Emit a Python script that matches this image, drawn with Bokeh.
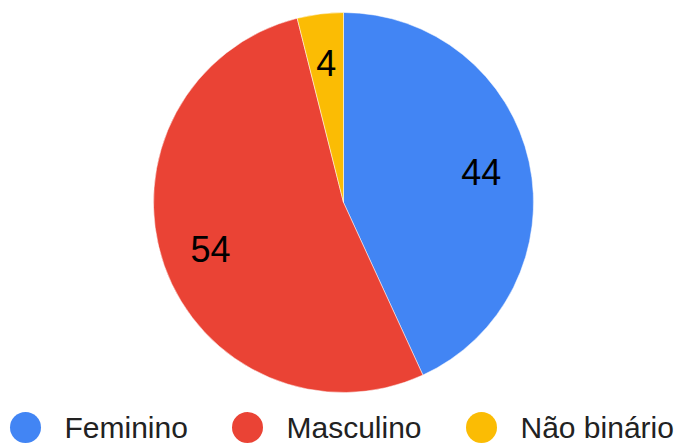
import math
from bokeh.plotting import figure
from bokeh.models import ColumnDataSource
from bokeh.core.properties import value
from bokeh.embed import file_html
from bokeh.resources import INLINE

categories = ["Feminino", "Masculino", "Não binário"]
counts = [44, 54, 4]
colors = ["#4285F4", "#EA4335", "#FBBC04"]

W, H = 680, 443
p = figure(width=W, height=H, x_range=(0, W), y_range=(0, H),
           output_backend="svg", toolbar_location=None, min_border=0,
           x_axis_type=None, y_axis_type=None)
p.grid.visible = False
p.outline_line_color = None
p.background_fill_color = "white"
p.border_fill_color = "white"

cx, cy, r = 343, 241, 190
total = sum(counts)
starts, ends, lx, ly = [], [], [], []
cum = 0
for c in counts:
    a0 = cum / total * 2 * math.pi
    a1 = (cum + c) / total * 2 * math.pi
    starts.append(math.pi / 2 - a0)
    ends.append(math.pi / 2 - a1)
    am = (a0 + a1) / 2
    lx.append(cx + 141 * math.sin(am))
    ly.append(cy + 141 * math.cos(am))
    cum += c

src = ColumnDataSource(dict(start=starts, end=ends, color=colors,
                            lx=lx, ly=ly, label=[str(c) for c in counts]))
p.wedge(x=cx, y=cy, radius=r, start_angle="start", end_angle="end",
        direction="clock", fill_color="color", line_color="white",
        line_width=0.5, source=src)
p.text(x="lx", y="ly", text="label", source=src, text_align="center",
       text_baseline="middle", text_font=value("Liberation Sans"),
       text_font_size="36px", text_color="#000000")

# legend
leg_cx = [25, 247, 481]
leg_tx = [64, 286, 520]
lsrc = ColumnDataSource(dict(cx=leg_cx, tx=leg_tx, cy=[16] * 3, ty=[16] * 3,
                             color=colors, name=categories))
p.scatter(x="cx", y="cy", size=31, fill_color="color", line_color=None, source=lsrc)
p.text(x="tx", y="ty", text="name", source=lsrc, text_align="left",
       text_baseline="middle", text_font=value("Liberation Sans"),
       text_font_size="30px", text_color="#222222")

open("out.html", "w").write(file_html(p, INLINE))
